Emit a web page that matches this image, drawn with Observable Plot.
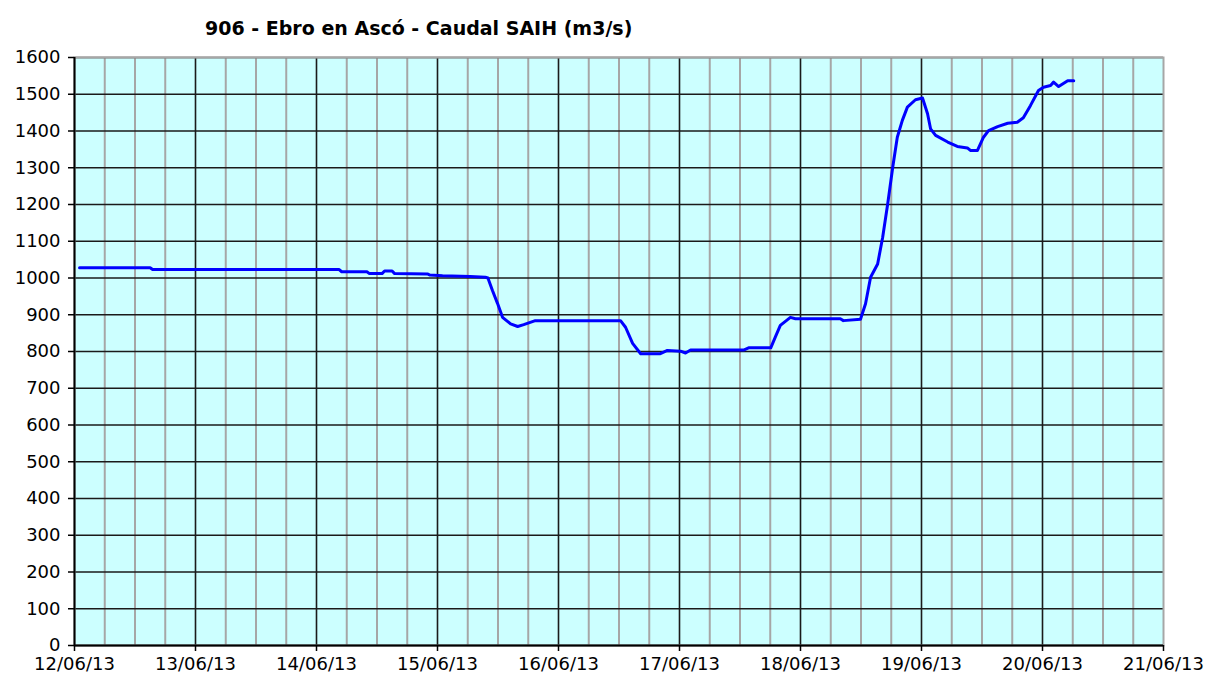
<!DOCTYPE html>
<html><head><meta charset="utf-8">
<script src="https://cdn.jsdelivr.net/npm/d3@7"></script>
<script src="https://cdn.jsdelivr.net/npm/@observablehq/plot@0.6"></script>
<style>
body{margin:0;background:#fff;font-family:"DejaVu Sans",Verdana,sans-serif;}
#title{height:45px;box-sizing:border-box;padding-top:18px;padding-left:205px;font-weight:bold;font-size:19px;line-height:20px;color:#000;}
#chart svg{display:block;overflow:visible;}
</style>
</head><body>
<div id="title">906 - Ebro en Ascó - Caudal SAIH (m3/s)</div>
<div id="chart"></div>
<script>
const times = [
"2013-06-12T01:00","2013-06-12T15:00","2013-06-12T15:30","2013-06-14T04:30","2013-06-14T05:00",
"2013-06-14T10:00","2013-06-14T10:30","2013-06-14T13:00","2013-06-14T13:30","2013-06-14T15:00",
"2013-06-14T15:30","2013-06-14T22:00","2013-06-14T22:30","2013-06-15T01:00","2013-06-15T06:30",
"2013-06-15T09:30","2013-06-15T10:00","2013-06-15T10:54","2013-06-15T11:54","2013-06-15T12:54",
"2013-06-15T14:30","2013-06-15T15:54","2013-06-15T17:06","2013-06-15T19:24","2013-06-16T12:18",
"2013-06-16T13:18","2013-06-16T14:42","2013-06-16T16:18","2013-06-16T20:12","2013-06-16T21:36",
"2013-06-17T00:12","2013-06-17T01:12","2013-06-17T02:12","2013-06-17T12:42","2013-06-17T13:42",
"2013-06-17T18:06","2013-06-17T19:00","2013-06-17T20:00","2013-06-17T22:00","2013-06-17T23:00",
"2013-06-18T07:54","2013-06-18T08:30","2013-06-18T11:54","2013-06-18T12:54","2013-06-18T13:54",
"2013-06-18T15:18","2013-06-18T16:18","2013-06-18T17:18","2013-06-18T18:18","2013-06-18T19:12",
"2013-06-18T20:12","2013-06-18T21:12","2013-06-18T22:48","2013-06-19T00:12","2013-06-19T01:12",
"2013-06-19T01:48","2013-06-19T02:48","2013-06-19T05:12","2013-06-19T07:06","2013-06-19T09:06",
"2013-06-19T09:42","2013-06-19T11:06","2013-06-19T12:18","2013-06-19T13:18","2013-06-19T15:06",
"2013-06-19T17:06","2013-06-19T19:00","2013-06-19T20:12","2013-06-19T21:36","2013-06-19T23:12",
"2013-06-20T00:12","2013-06-20T01:36","2013-06-20T02:12","2013-06-20T03:12","2013-06-20T05:00",
"2013-06-20T06:12"
];
const caudal = [
1028,1028,1023,1023,1017,
1017,1012,1012,1019,1019,
1012,1011,1008,1006,1004,
1002,1000,966,931,893,
875,868,873,884,884,
866,822,794,794,803,
801,796,804,804,810,
810,839,871,893,889,
889,884,888,930,1002,
1038,1111,1202,1302,1383,
1429,1465,1485,1490,1447,
1406,1388,1370,1358,1354,
1347,1347,1383,1401,1412,
1421,1424,1436,1469,1510,
1519,1524,1533,1521,1537,
1537
];
const dayTicks = ["2013-06-12","2013-06-13","2013-06-14","2013-06-15","2013-06-16","2013-06-17","2013-06-18","2013-06-19","2013-06-20","2013-06-21"];
const yTicks = [0,100,200,300,400,500,600,700,800,900,1000,1100,1200,1300,1400,1500,1600];

const parse = s => new Date(s + (s.length > 10 ? ":00Z" : "T00:00:00Z"));
const data = times.map((t, i) => ({date: parse(t), value: caudal[i]}));
const days = dayTicks.map(parse);
const x0 = days[0], x1 = days[days.length - 1];
const innerDays = days.slice(1, -1);
const sixHours = d3.utcHour.every(6).range(x0, x1).filter(d => d.getUTCHours() !== 0);
const fmt = d3.utcFormat("%d/%m/%y");

const chart = Plot.plot({
  width: 1209,
  height: 634,
  marginTop: 12,
  marginBottom: 34,
  marginLeft: 74,
  marginRight: 46,
  style: {fontFamily: "'DejaVu Sans', Verdana, sans-serif", fontSize: "18px", color: "#000", background: "transparent", overflow: "visible"},
  x: {type: "utc", domain: [x0, x1]},
  y: {domain: [0, 1600]},
  marks: [
    Plot.frame({fill: "#ccffff", stroke: null}),
    Plot.gridX(sixHours, {stroke: "#a6a6a6", strokeOpacity: 1, strokeWidth: 2}),
    Plot.gridY(yTicks, {stroke: "#1a1a1a", strokeOpacity: 1, strokeWidth: 1.6}),
    Plot.gridX(innerDays, {stroke: "#1a1a1a", strokeOpacity: 1, strokeWidth: 1.6}),
    Plot.frame({stroke: "#a6a6a6", strokeWidth: 2}),
    Plot.ruleX([x0], {stroke: "#000", strokeWidth: 2}),
    Plot.ruleY([0], {stroke: "#000", strokeWidth: 2}),
    Plot.line(data, {x: "date", y: "value", stroke: "#0000ff", strokeWidth: 3, strokeLinejoin: "round"}),
    Plot.axisY({ticks: yTicks, tickFormat: d3.format("d"), tickSize: 6, tickPadding: 8, label: null, stroke: "#000", strokeWidth: 1.5, fontSize: 18}),
    Plot.axisX({ticks: days, tickFormat: fmt, tickSize: 6, tickPadding: 6, label: null, stroke: "#000", strokeWidth: 1.5, fontSize: 18, letterSpacing: "0.6px"})
  ]
});
document.getElementById("chart").appendChild(chart);
</script>
</body></html>
